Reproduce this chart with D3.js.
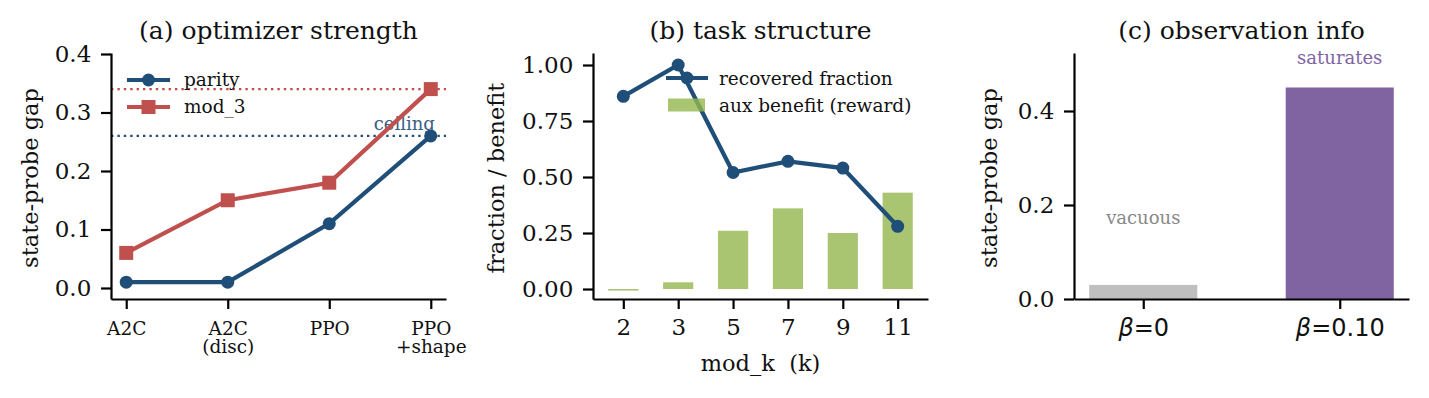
<!DOCTYPE html>
<html>
<head>
<meta charset="utf-8">
<script src="https://cdn.jsdelivr.net/npm/d3@7"></script>
<style>
  body { margin: 0; background: #fff; }
  text { font-family: "DejaVu Serif", serif; fill: #111; }
</style>
</head>
<body>
<div id="wrapper"></div>
<script>
// panel (a) optimizer strength
const methods = ["A2C|", "A2C|(disc)", "PPO|", "PPO|+shape"]
const parityGap = [0.01, 0.01, 0.11, 0.26]
const mod3Gap = [0.06, 0.15, 0.18, 0.34]
const parityCeiling = 0.26
const mod3Ceiling = 0.34
const gapTicksA = [0, 0.1, 0.2, 0.3, 0.4]

// panel (b) task structure
const kValues = ["2", "3", "5", "7", "9", "11"]
const recoveredFraction = [0.86, 1.00, 0.52, 0.57, 0.54, 0.28]
const auxBenefit = [-0.007, 0.03, 0.26, 0.36, 0.25, 0.43]
const fracTicks = [0, 0.25, 0.5, 0.75, 1.0]

// panel (c) observation info
const betaLabels = ["0", "0.10"]
const betaGap = [0.03, 0.45]
const betaNotes = ["vacuous", "saturates"]
const gapTicksC = [0, 0.2, 0.4]

const blue = "#1f4e79"
const red = "#c0504d"
const green = "#94b64f"
const purple = "#8064a2"
const grey = "#bfbfbf"

const width = 1429
const height = 398
const dims = {
  top: 53,
  bottom: 299,
  a: {left: 111, right: 446},
  b: {left: 593, right: 928},
  c: {left: 1074, right: 1409},
}

const svg = d3.select("#wrapper")
  .append("svg")
  .attr("width", width)
  .attr("height", height)

function styleAxis(g, fontSize) {
  g.select(".domain").attr("stroke", "#000").attr("stroke-width", 2.2)
  g.selectAll(".tick line").attr("stroke", "#000").attr("stroke-width", 2.2)
  g.selectAll(".tick text")
    .attr("fill", "#111")
    .style("font-family", "DejaVu Serif")
    .style("font-size", fontSize + "px")
}

function title(text, left, right) {
  svg.append("text")
    .attr("x", (left + right) / 2)
    .attr("y", 39)
    .attr("text-anchor", "middle")
    .style("font-size", "25px")
    .text(text)
}

function yLabel(text, x) {
  svg.append("text")
    .attr("transform", `translate(${x},178) rotate(-90)`)
    .attr("text-anchor", "middle")
    .style("font-size", "22.5px")
    .text(text)
}

// ---------- (a) ----------
const xA = d3.scaleLinear().domain([-0.15, 3.15]).range([dims.a.left, dims.a.right])
const yA = d3.scaleLinear().domain([-0.0188, 0.4017]).range([dims.bottom, dims.top])

const panelA = svg.append("g")

panelA.selectAll(".ceil")
  .data([[mod3Ceiling, red], [parityCeiling, blue]])
  .join("line")
  .attr("x1", dims.a.left).attr("x2", dims.a.right)
  .attr("y1", d => yA(d[0])).attr("y2", d => yA(d[0]))
  .attr("stroke", d => d[1])
  .attr("stroke-width", 2.4)
  .attr("stroke-dasharray", "2.4,4")

panelA.append("text")
  .attr("x", xA(3.04))
  .attr("y", yA(parityCeiling) - 6)
  .attr("text-anchor", "end")
  .style("font-size", "18px")
  .style("fill", blue)
  .style("opacity", 0.9)
  .text("ceiling")

const lineA = d3.line().x((d, i) => xA(i)).y(d => yA(d))

panelA.append("path")
  .attr("d", lineA(mod3Gap))
  .attr("fill", "none").attr("stroke", red).attr("stroke-width", 4.2)
panelA.selectAll(".sq")
  .data(mod3Gap)
  .join("rect")
  .attr("x", (d, i) => xA(i) - 7).attr("y", d => yA(d) - 7)
  .attr("width", 14).attr("height", 14)
  .attr("fill", red)

panelA.append("path")
  .attr("d", lineA(parityGap))
  .attr("fill", "none").attr("stroke", blue).attr("stroke-width", 4.2)
panelA.selectAll(".dot")
  .data(parityGap)
  .join("circle")
  .attr("cx", (d, i) => xA(i)).attr("cy", d => yA(d))
  .attr("r", 6.5)
  .attr("fill", blue)

const yAxisA = panelA.append("g")
  .attr("transform", `translate(${dims.a.left},0)`)
  .call(d3.axisLeft(yA).tickValues(gapTicksA).tickFormat(d3.format(".1f"))
    .tickSize(10).tickPadding(9.7).tickSizeOuter(0))
styleAxis(yAxisA, 23)

const xAxisA = panelA.append("g")
  .attr("transform", `translate(0,${dims.bottom})`)
  .call(d3.axisBottom(xA).tickValues(d3.range(methods.length)).tickFormat(() => "")
    .tickSize(10).tickSizeOuter(0))
styleAxis(xAxisA, 18.5)
xAxisA.selectAll(".tick").each(function(d) {
  const parts = methods[d].split("|")
  const t = d3.select(this).select("text")
    .attr("y", null).attr("dy", null)
  parts.forEach((p, j) => {
    t.append("tspan").attr("x", 0).attr("y", 35.5 + j * 18.5).text(p)
  })
})

// legend (a)
const legA = panelA.append("g")
legA.append("line").attr("x1", 127).attr("x2", 170).attr("y1", 80).attr("y2", 80)
  .attr("stroke", blue).attr("stroke-width", 4.2)
legA.append("circle").attr("cx", 148.5).attr("cy", 80).attr("r", 6.5).attr("fill", blue)
legA.append("line").attr("x1", 127).attr("x2", 170).attr("y1", 107).attr("y2", 107)
  .attr("stroke", red).attr("stroke-width", 4.2)
legA.append("rect").attr("x", 141.5).attr("y", 100).attr("width", 14).attr("height", 14).attr("fill", red)
legA.append("text").attr("x", 184).attr("y", 86).style("font-size", "18.5px").text("parity")
legA.append("text").attr("x", 184).attr("y", 113).style("font-size", "18.5px").text("mod_3")

title("(a) optimizer strength", dims.a.left, dims.a.right)
yLabel("state-probe gap", 38)

// ---------- (b) ----------
const xB = d3.scaleLinear().domain([-0.5525, 5.5525]).range([dims.b.left, dims.b.right])
const yB = d3.scaleLinear().domain([-0.0446, 1.0536]).range([dims.bottom, dims.top])
const barW = 0.55

const panelB = svg.append("g")

panelB.selectAll(".bar")
  .data(auxBenefit)
  .join("rect")
  .attr("x", (d, i) => xB(i - barW / 2))
  .attr("width", xB(barW) - xB(0))
  .attr("y", d => yB(Math.max(0, d)))
  .attr("height", d => Math.abs(yB(d) - yB(0)))
  .attr("fill", green)
  .attr("fill-opacity", 0.8)

const lineB = d3.line().x((d, i) => xB(i)).y(d => yB(d))
panelB.append("path")
  .attr("d", lineB(recoveredFraction))
  .attr("fill", "none").attr("stroke", blue).attr("stroke-width", 4.2)
panelB.selectAll(".dot")
  .data(recoveredFraction)
  .join("circle")
  .attr("cx", (d, i) => xB(i)).attr("cy", d => yB(d))
  .attr("r", 6.5)
  .attr("fill", blue)

const yAxisB = panelB.append("g")
  .attr("transform", `translate(${dims.b.left},0)`)
  .call(d3.axisLeft(yB).tickValues(fracTicks).tickFormat(d3.format(".2f"))
    .tickSize(10).tickPadding(9.7).tickSizeOuter(0))
styleAxis(yAxisB, 23)

const xAxisB = panelB.append("g")
  .attr("transform", `translate(0,${dims.bottom})`)
  .call(d3.axisBottom(xB).tickValues(d3.range(kValues.length)).tickFormat(i => kValues[i])
    .tickSize(10).tickPadding(9.7).tickSizeOuter(0))
styleAxis(xAxisB, 23)

// legend (b)
const legB = panelB.append("g")
legB.append("line").attr("x1", 666).attr("x2", 708).attr("y1", 78).attr("y2", 78)
  .attr("stroke", blue).attr("stroke-width", 4.2)
legB.append("circle").attr("cx", 687).attr("cy", 78).attr("r", 6.5).attr("fill", blue)
legB.append("rect").attr("x", 668).attr("y", 98.5).attr("width", 37).attr("height", 13)
  .attr("fill", green).attr("fill-opacity", 0.8)
legB.append("text").attr("x", 719).attr("y", 85).style("font-size", "18.5px").text("recovered fraction")
legB.append("text").attr("x", 719).attr("y", 112).style("font-size", "18.5px").text("aux benefit (reward)")

title("(b) task structure", dims.b.left, dims.b.right)
yLabel("fraction / benefit", 504)
svg.append("text")
  .attr("x", (dims.b.left + dims.b.right) / 2)
  .attr("y", 371)
  .attr("text-anchor", "middle")
  .style("font-size", "22.5px")
  .attr("xml:space", "preserve")
  .style("white-space", "pre")
  .text("mod_k  (k)")

// ---------- (c) ----------
const xC = d3.scaleLinear().domain([-0.3525, 1.3525]).range([dims.c.left, dims.c.right])
const yC = d3.scaleLinear().domain([0, 0.5234]).range([dims.bottom, dims.top])

const panelC = svg.append("g")

panelC.selectAll(".bar")
  .data(betaGap)
  .join("rect")
  .attr("x", (d, i) => xC(i - barW / 2))
  .attr("width", xC(barW) - xC(0))
  .attr("y", d => yC(d))
  .attr("height", d => yC(0) - yC(d))
  .attr("fill", (d, i) => i === 0 ? grey : purple)

panelC.selectAll(".note")
  .data(betaNotes)
  .join("text")
  .attr("x", (d, i) => xC(i))
  .attr("y", (d, i) => i === 0 ? yC(betaGap[i] + 0.13) : yC(betaGap[i] + 0.05))
  .attr("text-anchor", "middle")
  .style("font-size", "18px")
  .style("fill", (d, i) => i === 0 ? "#888888" : purple)
  .text(d => d)

const yAxisC = panelC.append("g")
  .attr("transform", `translate(${dims.c.left},0)`)
  .call(d3.axisLeft(yC).tickValues(gapTicksC).tickFormat(d3.format(".1f"))
    .tickSize(10).tickPadding(9.7).tickSizeOuter(0))
styleAxis(yAxisC, 23)

const xAxisC = panelC.append("g")
  .attr("transform", `translate(0,${dims.bottom})`)
  .call(d3.axisBottom(xC).tickValues(d3.range(betaLabels.length)).tickFormat(() => "")
    .tickSize(10).tickPadding(9.7).tickSizeOuter(0))
styleAxis(xAxisC, 24)
xAxisC.selectAll(".tick text").each(function(d) {
  const t = d3.select(this).style("font-family", "DejaVu Sans")
  t.append("tspan").style("font-style", "italic").text("\u03b2")
  t.append("tspan").text("=" + betaLabels[d])
})

title("(c) observation info", dims.c.left, dims.c.right)
yLabel("state-probe gap", 997)
</script>
</body>
</html>
